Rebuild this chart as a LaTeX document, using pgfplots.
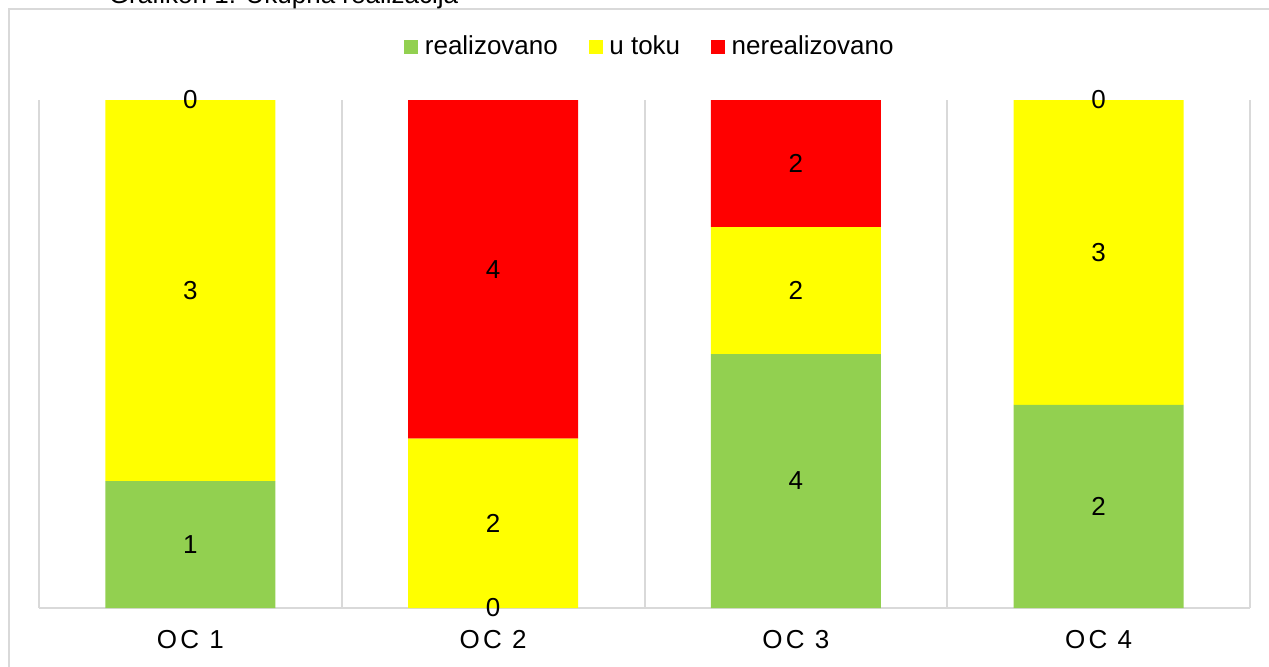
\documentclass[border=0pt]{standalone}
\usepackage{fontspec}
\setmainfont{Liberation Sans}
\newfontfamily\spaced[LetterSpace=12]{Liberation Sans}
\usepackage{pgfplots}
\usepackage{pgfplotstable}
\pgfplotsset{compat=1.18}
\definecolor{cgreen}{HTML}{92D050}
\definecolor{cyellow}{HTML}{FFFF00}
\definecolor{cred}{HTML}{FF0000}
\definecolor{cgrid}{HTML}{D9D9D9}
\pgfplotstableread{
x r u n t
1 1 3 0 4
2 0 2 4 6
3 4 2 2 8
4 2 3 0 5
}\data
\begin{document}
\begin{tikzpicture}[x=0.5pt,y=0.5pt, font=\fontsize{13}{15}\selectfont]
\useasboundingbox (0,0) rectangle (1269,666);
\clip (0,0) rectangle (1269,666);
\draw[cgrid, line width=1pt] (9,657) rectangle (1300,-30);
\node[anchor=base] at (283.5,662) {Grafikon 1: Ukupna realizacija};
\begin{axis}[
 at={(19.5pt,29pt)}, anchor=south west,
 scale only axis, width=605.5pt, height=254pt,
 xmin=0.5, xmax=4.5, ymin=0, ymax=1,
 ybar stacked, bar width=85pt,
 axis x line*=bottom, axis y line=none,
 axis line style={cgrid, line width=1pt, -},
 xtick={1,2,3,4}, xticklabels={OC 1,OC 2,OC 3,OC 4},
 major tick length=0pt, minor tick length=0pt,
 minor xtick={0.5,1.5,2.5,3.5,4.5}, xminorgrids,
 minor grid style={cgrid, line width=1pt},
 ytick=\empty,
 xticklabel style={anchor=center, yshift=-16pt, font=\spaced\fontsize{13}{15}\selectfont},
 legend style={at={(0.5,1)}, anchor=center, yshift=26.5pt, xshift=2.25pt, draw=none, fill=none,
   font=\fontsize{13}{15}\selectfont, inner sep=0pt, nodes={inner sep=0pt},
   /tikz/every odd column/.append style={column sep=3.25pt},
   /tikz/every even column/.append style={column sep=15.5pt}},
 legend columns=3,
 legend image code/.code={\fill[#1] (0pt,-3.5pt) rectangle (7pt,3.5pt);},
]
\addplot[fill=cgreen, draw=none] table[x=x, y expr=\thisrow{r}/\thisrow{t}] {\data};
\addplot[fill=cyellow, draw=none] table[x=x, y expr=\thisrow{u}/\thisrow{t}] {\data};
\addplot[fill=cred, draw=none] table[x=x, y expr=\thisrow{n}/\thisrow{t}] {\data};
\legend{realizovano, u toku, nerealizovano}
\end{axis}
\begin{axis}[
 at={(19.5pt,29pt)}, anchor=south west,
 scale only axis, width=605.5pt, height=254pt,
 xmin=0.5, xmax=4.5, ymin=0, ymax=1,
 hide axis, clip=false,
 /pgf/number format/assume math mode=true,
 nodes near coords style={anchor=center, font=\fontsize{13}{15}\selectfont, text=black},
]
\addplot[draw=none, mark=none, nodes near coords, point meta=explicit]
  table[x=x, y expr=\thisrow{r}/(2*\thisrow{t}), meta=r] {\data};
\addplot[draw=none, mark=none, nodes near coords, point meta=explicit]
  table[x=x, y expr=(\thisrow{r}+\thisrow{u}/2)/\thisrow{t}, meta=u] {\data};
\addplot[draw=none, mark=none, nodes near coords, point meta=explicit]
  table[x=x, y expr=(\thisrow{r}+\thisrow{u}+\thisrow{n}/2)/\thisrow{t}, meta=n] {\data};
\end{axis}
\end{tikzpicture}
\end{document}
